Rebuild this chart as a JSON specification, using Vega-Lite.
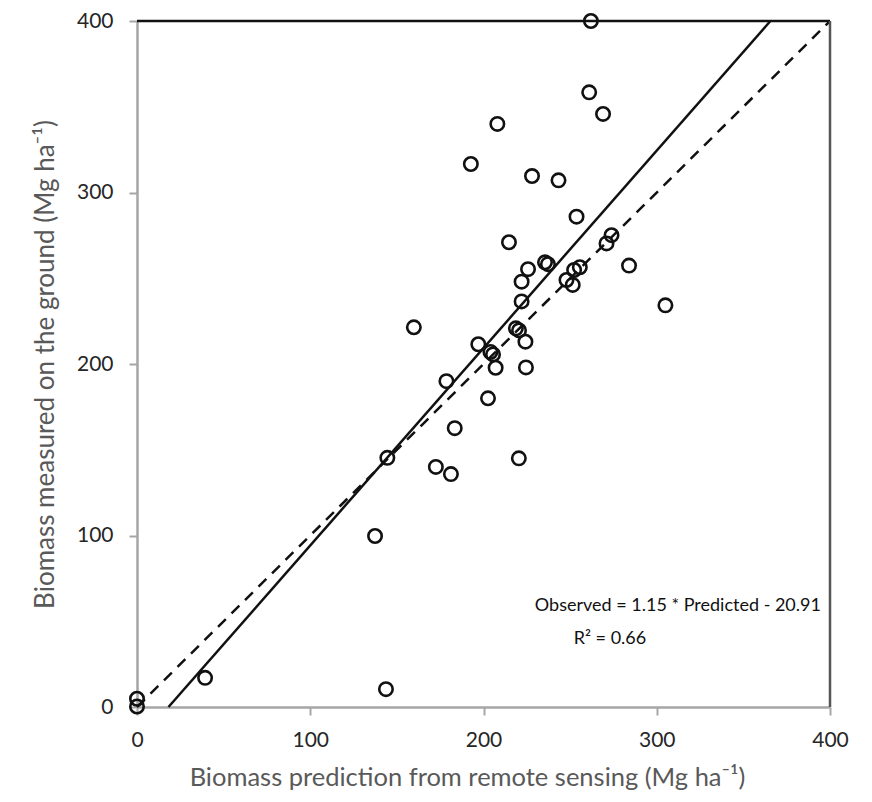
{
  "$schema": "https://vega.github.io/schema/vega-lite/v6.json",
  "width": 693,
  "height": 686,
  "autosize": "none",
  "padding": {"left": 137, "top": 21, "right": 42, "bottom": 95},
  "config": {"view": {"stroke": null}, "font": "Lato"},
  "datasets": {
    "points": [
      {"predicted": 262, "observed": 400},
      {"predicted": 261, "observed": 358.4},
      {"predicted": 269, "observed": 345.8},
      {"predicted": 208, "observed": 340},
      {"predicted": 192.7, "observed": 316.6},
      {"predicted": 228, "observed": 309.6},
      {"predicted": 243.3, "observed": 307.1},
      {"predicted": 253.7, "observed": 285.9},
      {"predicted": 214.7, "observed": 271},
      {"predicted": 273.9, "observed": 275.1},
      {"predicted": 271, "observed": 270.3},
      {"predicted": 235.5, "observed": 259.3},
      {"predicted": 237.2, "observed": 258.2},
      {"predicted": 225.7, "observed": 255.3},
      {"predicted": 222, "observed": 248},
      {"predicted": 284, "observed": 257.4},
      {"predicted": 255.6, "observed": 256.4},
      {"predicted": 252.3, "observed": 254.8},
      {"predicted": 247.9, "observed": 249},
      {"predicted": 251.5, "observed": 246.1},
      {"predicted": 305, "observed": 234.2},
      {"predicted": 222, "observed": 236.5},
      {"predicted": 159.8, "observed": 221.4},
      {"predicted": 197, "observed": 211.5},
      {"predicted": 218.7, "observed": 220.8},
      {"predicted": 220.5, "observed": 219.6},
      {"predicted": 224.2, "observed": 213},
      {"predicted": 204, "observed": 207},
      {"predicted": 205.5, "observed": 205.6},
      {"predicted": 207, "observed": 197.8},
      {"predicted": 224.5, "observed": 198},
      {"predicted": 178.6, "observed": 190},
      {"predicted": 202.6, "observed": 180},
      {"predicted": 183.4, "observed": 162.6},
      {"predicted": 144.5, "observed": 145.3},
      {"predicted": 220.4, "observed": 145},
      {"predicted": 172.5, "observed": 140},
      {"predicted": 181.2, "observed": 135.8},
      {"predicted": 137.4, "observed": 99.7},
      {"predicted": 39.3, "observed": 17},
      {"predicted": 143.7, "observed": 10.4},
      {"predicted": 0, "observed": 4.8},
      {"predicted": 0, "observed": 0.3}
    ],
    "fit": [
      {"predicted": 18.18, "observed": 0},
      {"predicted": 365.6, "observed": 400}
    ],
    "identity": [
      {"predicted": 0, "observed": 0},
      {"predicted": 400, "observed": 400}
    ],
    "topframe": [{"x": 0, "x2": 400, "y": 400}],
    "rightframe": [{"x": 400, "y": 0, "y2": 400}],
    "notes": [
      {"predicted": 312.2, "observed": 58.9, "label": "Observed = 1.15 * Predicted - 20.91"},
      {"predicted": 273, "observed": 39.7, "label": "R² = 0.66"}
    ]
  },
  "layer": [
    {
      "data": {"name": "identity"},
      "mark": {"type": "line", "color": "#111111", "strokeWidth": 2.5, "strokeDash": [11, 8]},
      "encoding": {
        "x": {"field": "predicted", "type": "quantitative", "scale": {"domain": [0, 400], "nice": false, "zero": false},
          "axis": {
            "title": "Biomass prediction from remote sensing (Mg ha⁻¹)",
            "values": [0, 100, 200, 300, 400],
            "grid": false,
            "domainColor": "#a6a6a6", "domainWidth": 2.5,
            "tickColor": "#a6a6a6", "tickSize": 8, "tickWidth": 2,
            "labelFontSize": 21, "labelColor": "#262626", "labelPadding": 14,
            "labelFlush": false, "labelOverlap": false,
            "titleFontSize": 25.5, "titleColor": "#595959", "titleFontWeight": "normal", "titlePadding": 15,
            "titleX": 330
          }},
        "y": {"field": "observed", "type": "quantitative", "scale": {"domain": [0, 400], "nice": false, "zero": false},
          "axis": {
            "title": "Biomass measured on the ground (Mg ha⁻¹)",
            "values": [0, 100, 200, 300, 400],
            "grid": false,
            "domainColor": "#a6a6a6", "domainWidth": 2.5,
            "tickColor": "#a6a6a6", "tickSize": 8, "tickWidth": 2,
            "labelFontSize": 21, "labelColor": "#262626", "labelPadding": 16,
            "labelFlush": false, "labelOverlap": false,
            "titleFontSize": 26, "titleColor": "#595959", "titleFontWeight": "normal", "titlePadding": 18
          }}
      }
    },
    {
      "data": {"name": "fit"},
      "mark": {"type": "line", "color": "#111111", "strokeWidth": 2.5},
      "encoding": {
        "x": {"field": "predicted", "type": "quantitative"},
        "y": {"field": "observed", "type": "quantitative"}
      }
    },
    {
      "data": {"name": "topframe"},
      "mark": {"type": "rule", "color": "#111111", "strokeWidth": 2.5},
      "encoding": {
        "x": {"field": "x", "type": "quantitative"},
        "x2": {"field": "x2"},
        "y": {"field": "y", "type": "quantitative"}
      }
    },
    {
      "data": {"name": "rightframe"},
      "mark": {"type": "rule", "color": "#555555", "strokeWidth": 2.5},
      "encoding": {
        "x": {"field": "x", "type": "quantitative"},
        "y": {"field": "y", "type": "quantitative"},
        "y2": {"field": "y2"}
      }
    },
    {
      "data": {"name": "points"},
      "mark": {"type": "point", "shape": "circle", "filled": false, "size": 180, "strokeWidth": 2.6, "color": "#111111", "opacity": 1},
      "encoding": {
        "x": {"field": "predicted", "type": "quantitative"},
        "y": {"field": "observed", "type": "quantitative"}
      }
    },
    {
      "data": {"name": "notes"},
      "mark": {"type": "text", "fontSize": 18, "color": "#111111", "align": "center", "baseline": "middle"},
      "encoding": {
        "x": {"field": "predicted", "type": "quantitative"},
        "y": {"field": "observed", "type": "quantitative"},
        "text": {"field": "label"}
      }
    }
  ]
}
